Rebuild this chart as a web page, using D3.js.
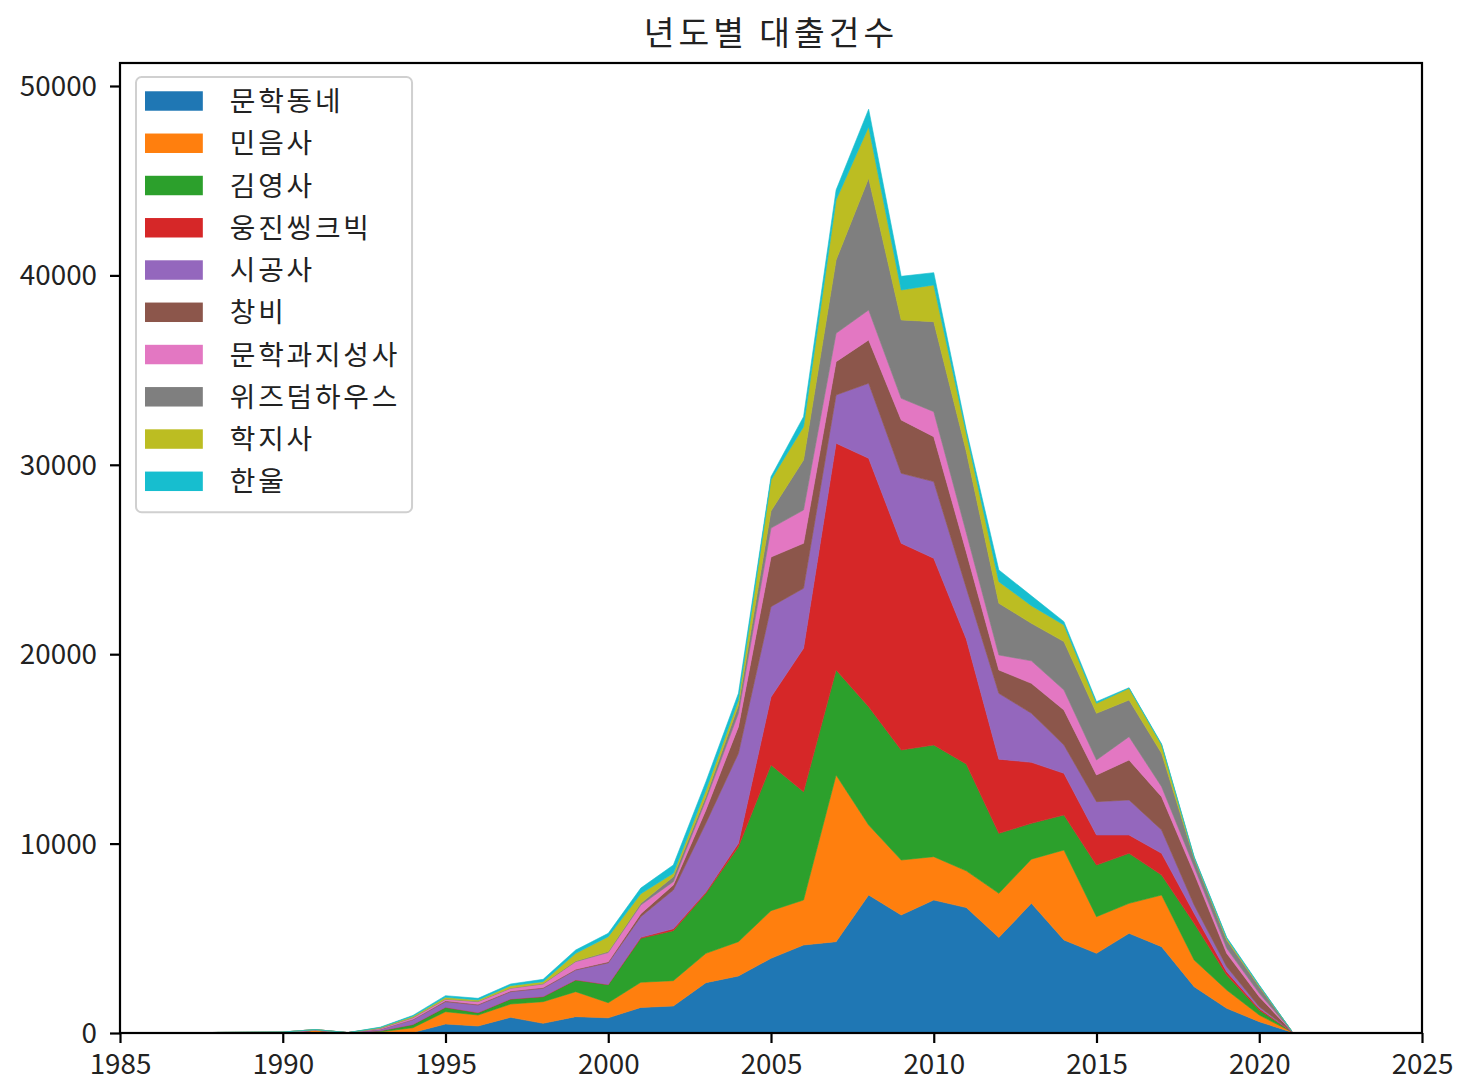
<!DOCTYPE html>
<html>
<head>
<meta charset="utf-8">
<script src="https://cdn.jsdelivr.net/npm/d3@7"></script>
<style>
  body { margin: 0; background: #fff; }
  svg { font-family: "Noto Sans CJK KR", "Noto Sans", sans-serif; }
</style>
</head>
<body>
<div id="chart"></div>
<script>
// years on the x axis
const years = d3.range(1987, 2022);

// publishers, in stacking order
const publishers = ['문학동네', '민음사', '김영사', '웅진씽크빅', '시공사', '창비', '문학과지성사', '위즈덤하우스', '학지사', '한울'];

// loans per year (1987 .. 2021)
const munhakdongne = [0, 0, 0, 0, 0, 0, 0, 30, 475, 370, 827, 510, 862, 800, 1350, 1425, 2657, 3010, 3944, 4646, 4822, 7286, 6230, 7022, 6620, 5043, 6846, 4910, 4206, 5262, 4558, 2446, 1302, 598, 40];
const minumsa = [0, 0, 0, 0, 150, 0, 60, 250, 651, 580, 704, 1144, 1320, 800, 1330, 1338, 1549, 1812, 2515, 2376, 8800, 3696, 2904, 2288, 1940, 2332, 2334, 4752, 1936, 1584, 2728, 1408, 968, 352, 20];
const gimyoungsa = [0, 0, 0, 0, 0, 10, 60, 170, 229, 123, 264, 264, 616, 950, 2320, 2640, 3169, 5016, 7691, 5720, 5544, 6248, 5808, 5896, 5640, 3166, 1890, 1848, 2728, 2640, 1056, 1936, 792, 264, 10];
const woongjin = [0, 0, 0, 0, 0, 0, 0, 0, 5, 5, 5, 7, 7, 10, 50, 97, 75, 176, 3590, 7570, 11970, 13113, 10914, 9858, 6600, 3917, 3220, 2200, 1584, 968, 1144, 528, 176, 86, 0];
const sigongsa = [0, 0, 0, 0, 0, 10, 70, 250, 294, 400, 382, 433, 521, 1140, 1092, 2050, 3630, 4752, 4770, 3168, 2550, 3961, 3696, 4048, 2700, 3476, 2590, 1496, 1760, 1848, 1232, 440, 264, 90, 5];
const changbi = [0, 0, 0, 0, 0, 0, 10, 20, 46, 42, 38, 42, 44, 60, 158, 264, 694, 1407, 2620, 2376, 1759, 2286, 2814, 2373, 1900, 1232, 1580, 1848, 1408, 2112, 1759, 1672, 704, 528, 10];
const moonji = [0, 30, 40, 50, 30, 0, 40, 80, 78, 134, 138, 187, 396, 490, 458, 176, 528, 707, 1530, 1758, 1499, 1584, 1144, 1320, 1016, 792, 1190, 1056, 792, 1232, 529, 352, 264, 176, 5];
const wisdomhouse = [0, 0, 0, 0, 0, 0, 20, 30, 22, 26, 22, 23, 34, 50, 92, 263, 198, 420, 900, 2640, 3870, 6954, 4136, 4752, 4284, 2730, 1982, 2554, 2466, 1936, 1760, 440, 440, 352, 10];
const hakjisa = [0, 0, 0, 0, 0, 0, 30, 60, 83, 62, 119, 100, 406, 786, 500, 179, 330, 282, 1640, 1760, 3168, 2722, 1584, 1937, 964, 1142, 928, 878, 526, 616, 440, 48, 88, 54, 0];
const hanul = [0, 0, 0, 0, 0, 0, 20, 40, 88, 88, 88, 123, 176, 176, 300, 438, 440, 352, 170, 528, 528, 925, 720, 651, 174, 616, 520, 176, 88, 32, 54, 40, 52, 34, 0];

const seriesValues = [munhakdongne, minumsa, gimyoungsa, woongjin, sigongsa, changbi, moonji, wisdomhouse, hakjisa, hanul];

const xDomain = [1985, 2025];
const titleText = '년도별 대출건수';

// rows for d3.stack
const rows = years.map((yr, i) => {
  const row = { year: yr };
  publishers.forEach((p, k) => { row[p] = seriesValues[k][i]; });
  return row;
});

const W = 1469;
const H = 1082;
const margin = { t: 63, r: 47, b: 49, l: 120 };
const width = W - margin.l - margin.r;
const height = H - margin.t - margin.b;
const fs = 27.8; // 10pt

const colors = d3.scaleOrdinal()
  .domain(publishers)
  .range(['#1f77b4', '#ff7f0e', '#2ca02c', '#d62728', '#9467bd', '#8c564b', '#e377c2', '#7f7f7f', '#bcbd22', '#17becf']);

const stacked = d3.stack().keys(publishers)(rows);
const maxTotal = d3.max(rows, (d) => d3.sum(publishers, (p) => d[p]));

const x = d3.scaleLinear().domain(xDomain).range([0, width]);
const y = d3.scaleLinear().domain([0, maxTotal * 1.05]).range([height, 0]);

const svg = d3.select('#chart')
  .append('svg')
  .attr('width', W)
  .attr('height', H);

const g = svg.append('g').attr('transform', `translate(${margin.l}, ${margin.t})`);

// areas
const area = d3.area()
  .x((d) => x(d.data.year))
  .y0((d) => y(d[0]))
  .y1((d) => y(d[1]));

g.selectAll('path.layer')
  .data(stacked)
  .join('path')
  .attr('class', 'layer')
  .attr('d', area)
  .attr('fill', (d) => colors(d.key))
  .attr('stroke', (d) => colors(d.key))
  .attr('stroke-width', 0.6);

// axes
const xAxis = g.append('g')
  .attr('transform', `translate(0, ${height})`)
  .call(d3.axisBottom(x).ticks(8).tickFormat(d3.format('d')).tickSize(10).tickPadding(9));
const yAxis = g.append('g')
  .call(d3.axisLeft(y).ticks(6).tickFormat(d3.format('d')).tickSize(10).tickPadding(13));

[xAxis, yAxis].forEach((a) => {
  a.select('.domain').remove();
  a.selectAll('.tick line').attr('stroke', '#000').attr('stroke-width', 2.2);
  a.selectAll('.tick text')
    .attr('fill', '#222')
    .style('font-size', `${fs}px`)
    .style('font-family', '"Noto Sans CJK KR", sans-serif');
});
xAxis.selectAll('.tick text').attr('dy', '0.78em');
yAxis.selectAll('.tick text').attr('dy', '0.34em');

// frame
g.append('rect')
  .attr('width', width)
  .attr('height', height)
  .attr('fill', 'none')
  .attr('stroke', '#000')
  .attr('stroke-width', 2.2);

// title
svg.append('text')
  .attr('x', margin.l + width / 2)
  .attr('y', margin.t - 18)
  .attr('text-anchor', 'middle')
  .style('font-size', '33.4px')
  .style('letter-spacing', '4px')
  .attr('fill', '#222')
  .text(titleText);

// legend
const leg = g.append('g').attr('transform', 'translate(16, 14)');
const rowStep = fs * 1.52;
const legFrame = leg.append('rect')
  .attr('rx', 5.6)
  .attr('fill', '#fff')
  .attr('fill-opacity', 0.8)
  .attr('stroke', '#d0d0d0')
  .attr('stroke-width', 2);

const items = leg.selectAll('g.item')
  .data(publishers)
  .join('g')
  .attr('class', 'item')
  .attr('transform', (d, i) => `translate(9, ${24 + i * rowStep})`);

items.append('rect')
  .attr('x', 0)
  .attr('y', -fs * 0.35)
  .attr('width', fs * 2.08)
  .attr('height', fs * 0.7)
  .attr('fill', (d) => colors(d));

const labels = items.append('text')
  .attr('x', fs * 3.05)
  .attr('dy', '0.36em')
  .style('font-size', `${fs}px`)
  .style('letter-spacing', '2.8px')
  .attr('fill', '#222')
  .text((d) => d);

const maxLabel = d3.max(labels.nodes(), (n) => n.getComputedTextLength());
legFrame
  .attr('width', 9 + fs * 3.05 + maxLabel + 12)
  .attr('height', 24 + (publishers.length - 1) * rowStep + 31);
</script>
</body>
</html>
